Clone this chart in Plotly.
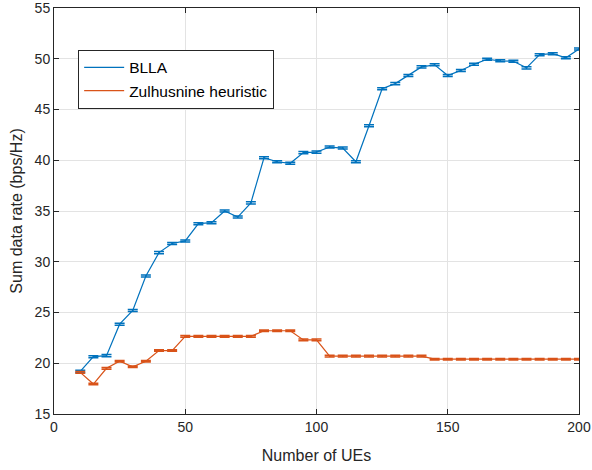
import plotly.graph_objects as go

ues = [10, 15, 20, 25, 30, 35, 40, 45, 50, 55, 60, 65, 70, 75, 80, 85, 90, 95, 100,
       105, 110, 115, 120, 125, 130, 135, 140, 145, 150, 155, 160, 165, 170, 175,
       180, 185, 190, 195, 200]

blla = [19.2, 20.65, 20.75, 23.85, 25.2, 28.6, 30.9, 31.8, 32.05, 33.75, 33.85, 35.0,
        34.4, 35.8, 40.25, 39.85, 39.7, 40.75, 40.8, 41.3, 41.2, 39.85, 43.4, 47.05,
        47.55, 48.35, 49.2, 49.4, 48.35, 48.85, 49.45, 49.95, 49.8, 49.75, 49.1,
        50.4, 50.5, 50.1, 50.95]

zulhusnine = [19.1, 17.95, 19.5, 20.2, 19.65, 20.2, 21.25, 21.25, 22.65, 22.65, 22.65,
              22.65, 22.65, 22.65, 23.2, 23.2, 23.2, 22.3, 22.3, 20.7, 20.7, 20.7, 20.7,
              20.7, 20.7, 20.7, 20.7, 20.4, 20.4, 20.4, 20.4, 20.4, 20.4, 20.4, 20.4,
              20.4, 20.4, 20.4, 20.4]

blla_err = [0.1] * len(ues)
zul_err = [0.08] * len(ues)

blue = "#0072BD"
orange = "#D95319"
FONT = "Liberation Sans, Arial, sans-serif"

fig = go.Figure()
fig.add_trace(go.Scatter(
    x=ues, y=blla, mode="lines", name="BLLA",
    line=dict(color=blue, width=1.2),
    error_y=dict(type="data", array=blla_err, visible=True, color=blue, thickness=1.5, width=5),
))
fig.add_trace(go.Scatter(
    x=ues, y=zulhusnine, mode="lines", name="Zulhusnine heuristic",
    line=dict(color=orange, width=1.2),
    error_y=dict(type="data", array=zul_err, visible=True, color=orange, thickness=1.5, width=5),
))

axis_common = dict(
    showgrid=True, gridcolor="#e3e3e3", gridwidth=1,
    showline=True, linecolor="#262626", linewidth=1, mirror="ticks",
    ticks="inside", ticklen=5, tickcolor="#262626",
    zeroline=False, automargin=False,
    tickfont=dict(family=FONT, size=14, color="#262626"),
)

fig.update_xaxes(range=[0, 200], tickvals=[0, 50, 100, 150, 200],
                 title=dict(text="Number of UEs", standoff=16,
                            font=dict(family=FONT, size=16, color="#262626")),
                 **axis_common)
fig.update_yaxes(range=[15, 55], tickvals=[15, 20, 25, 30, 35, 40, 45, 50, 55],
                 ticklabeloverflow="allow",
                 title=dict(text="Sum data rate (bps/Hz)", standoff=8,
                            font=dict(family=FONT, size=16, color="#262626")),
                 **axis_common)

fig.update_layout(
    width=592, height=470,
    margin=dict(l=54, r=13, t=8, b=56),
    plot_bgcolor="white", paper_bgcolor="white",
    font=dict(family=FONT, color="#262626"),
    legend=dict(
        x=0.046, y=0.897, xanchor="left", yanchor="top",
        bgcolor="white", bordercolor="#262626", borderwidth=1,
        font=dict(size=15.5, color="black"),
        tracegroupgap=0, itemwidth=40,
    ),
    showlegend=True,
)

fig.write_html("out.html", config={"displayModeBar": False},
               post_script="document.body.style.margin='0';")
